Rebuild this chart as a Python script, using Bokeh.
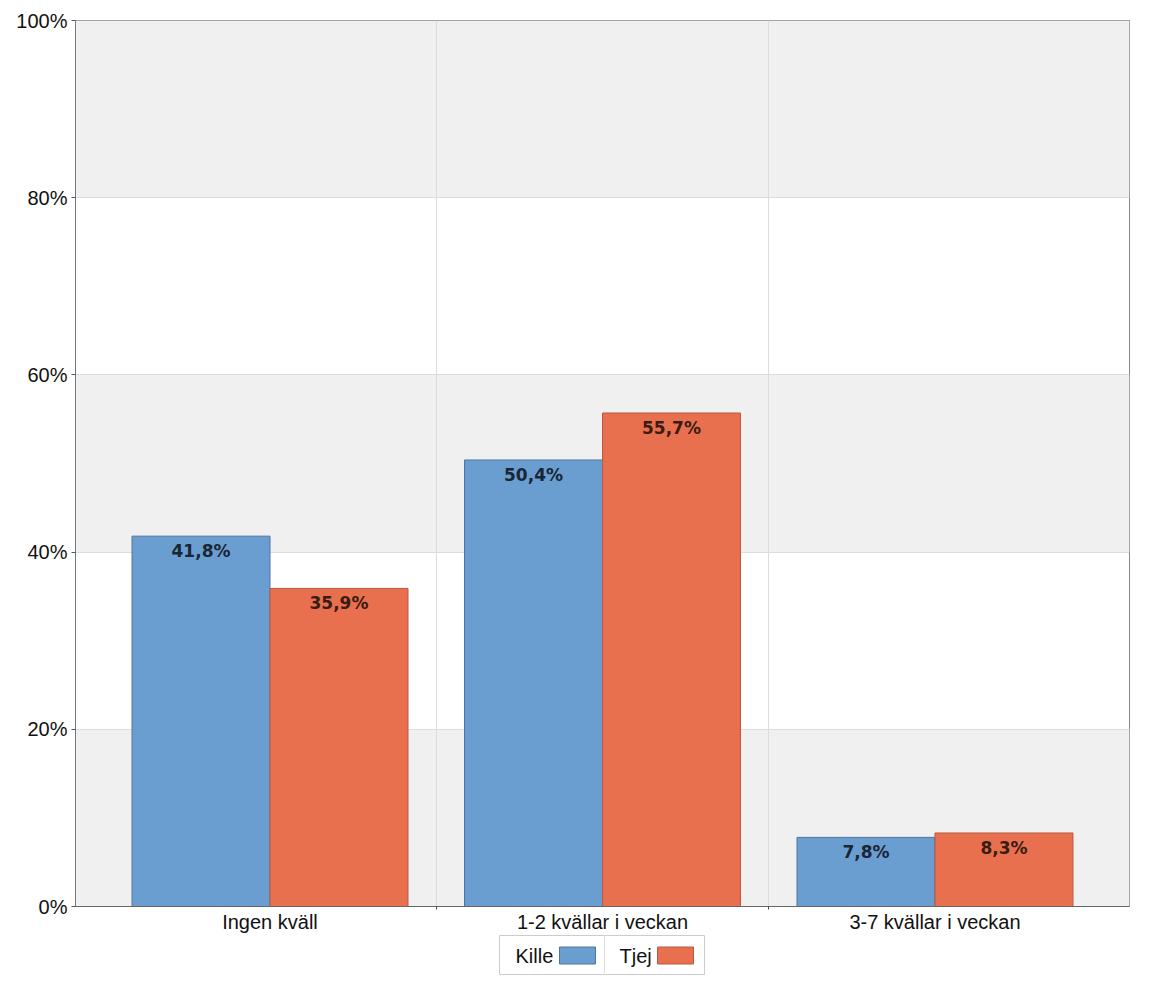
import numpy as np
from bokeh.plotting import figure
from bokeh.models import (ColumnDataSource, Range1d, FixedTicker, Spacer, LabelSet)
from bokeh.layouts import column, row
from bokeh.embed import file_html
from bokeh.resources import INLINE
from bokeh.core.properties import value

categories = ["Ingen kväll", "1-2 kvällar i veckan", "3-7 kvällar i veckan"]
series = ["Kille", "Tjej"]
kille = [41.8, 50.4, 7.8]
tjej = [35.9, 55.7, 8.3]
y_ticks = [0, 20, 40, 60, 80, 100]

fill_colors = ["#6a9ed1", "#e8704e"]
line_colors = ["#4f74a0", "#b85a40"]
label_colors = ["#1a2636", "#3a1c12"]

BW = 0.415
centers = np.arange(len(categories)) + 0.5

p = figure(width=1149, height=935, output_backend="svg", toolbar_location=None,
           x_range=Range1d(-0.085, 3.085), y_range=Range1d(0, 100),
           min_border_left=75, min_border_right=20, min_border_top=20, min_border_bottom=0)
p.background_fill_color = "white"
p.border_fill_color = "white"
p.outline_line_color = "#8a8a8a"
p.outline_line_width = 1

# y axis / grid
p.yaxis.ticker = FixedTicker(ticks=y_ticks)
p.yaxis.major_label_overrides = {t: f"{t}%" for t in y_ticks}
p.yaxis.major_label_text_font = "Liberation Sans"
p.yaxis.major_label_text_font_size = "20px"
p.yaxis.major_label_text_color = "#111111"
p.yaxis.major_tick_out = 4
p.yaxis.major_tick_in = 0
p.yaxis.major_tick_line_color = "#555555"
p.yaxis.major_label_standoff = 4
p.yaxis.minor_tick_line_color = None
p.yaxis.axis_line_color = "#777777"
# repeat the first tick so the shaded bands fall on 0-20, 40-60, 80-100
p.ygrid.ticker = FixedTicker(ticks=[y_ticks[0]] + y_ticks)
p.ygrid.grid_line_color = "#dcdcdc"
p.ygrid.band_fill_color = "#f0f0f0"
p.ygrid.band_fill_alpha = 1.0
p.ygrid.level = "image"

# x axis / grid
p.xaxis.ticker = FixedTicker(ticks=list(centers), minor_ticks=[1, 2])
p.xaxis.major_label_overrides = {float(c): cat for c, cat in zip(centers, categories)}
p.xaxis.major_label_text_font = "Liberation Sans"
p.xaxis.major_label_text_font_size = "20px"
p.xaxis.major_label_text_color = "#111111"
p.xaxis.major_tick_out = 0
p.xaxis.major_tick_in = 0
p.xaxis.minor_tick_out = 3
p.xaxis.minor_tick_in = 0
p.xaxis.minor_tick_line_color = "#444444"
p.xaxis.axis_line_color = "#666666"
p.xaxis.major_label_standoff = 1
p.xgrid.ticker = FixedTicker(ticks=[1, 2])
p.xgrid.grid_line_color = "#dcdcdc"

for i, (name, vals) in enumerate(zip(series, [kille, tjej])):
    xs = centers + (i - 0.5) * BW
    src = ColumnDataSource(dict(x=xs, top=vals, lab=[f"{v:.1f}%".replace(".", ",") for v in vals]))
    p.vbar(x="x", top="top", width=BW, bottom=0, source=src,
           fill_color=fill_colors[i], line_color=line_colors[i], line_width=1)
    p.add_layout(LabelSet(x="x", y="top", text="lab", source=src, text_align="center",
                          text_baseline="top", y_offset=-5,
                          text_font=value("DejaVu Sans"), text_font_style="bold",
                          text_font_size="17px", text_color=label_colors[i]))

# legend as small figure (label before swatch)
lg = figure(width=206, height=40, output_backend="svg", toolbar_location=None,
            x_range=Range1d(0, 206), y_range=Range1d(0, 40),
            min_border=0)
lg.axis.visible = False
lg.grid.visible = False
lg.outline_line_color = "#cccccc"
lg.background_fill_color = "white"
lsrc = ColumnDataSource(dict(tx=[16, 120], ty=[20, 20], name=series,
                             sx=[78, 176], c=fill_colors, lc=line_colors))
lg.text(x="tx", y="ty", text="name", source=lsrc, text_baseline="middle",
        text_font=value("Liberation Sans"), text_font_size="20px", text_color="#111111")
lg.rect(x="sx", y="ty", width=36, height=17, source=lsrc, fill_color="c", line_color="lc")
lg.segment(x0=[105], y0=[0], x1=[105], y1=[40], line_color="#dddddd")

layout = column(p, row(Spacer(width=499), lg), spacing=0)
open("out.html", "w").write(file_html(layout, INLINE))
